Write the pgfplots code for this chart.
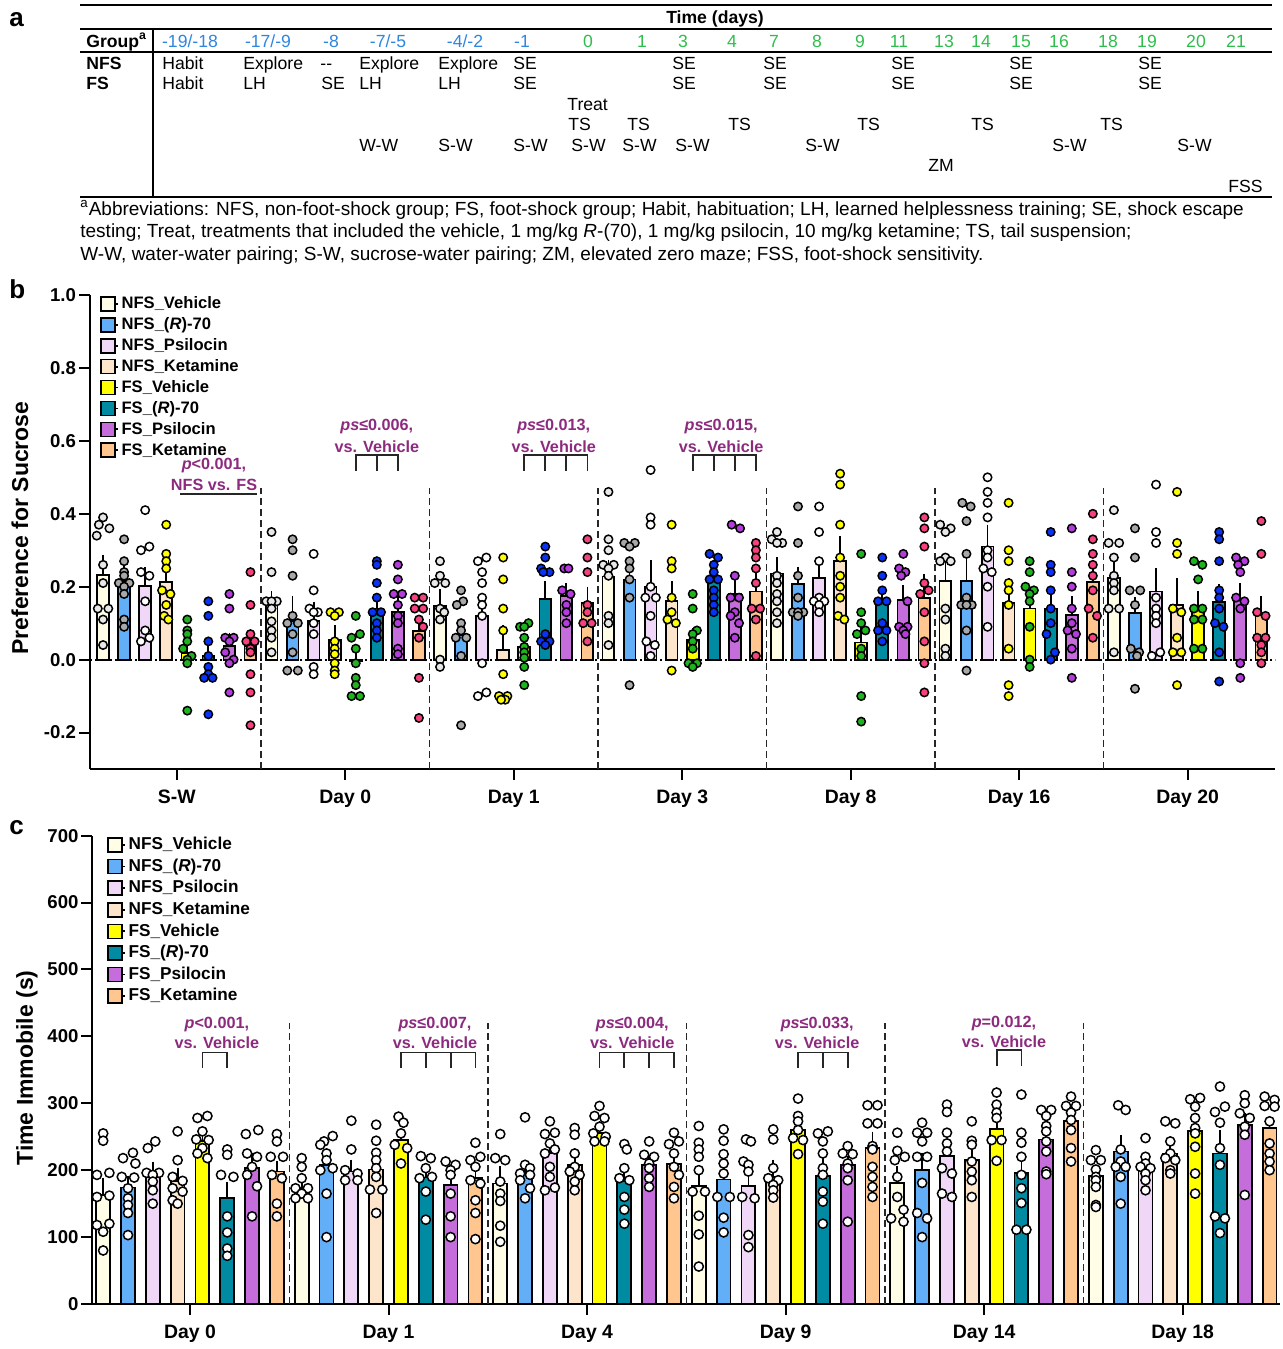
\documentclass[border=0pt]{standalone}
\usepackage{fontspec}
\setmainfont{Liberation Sans}
\usepackage{pgfplots}
\pgfplotsset{compat=1.18}
\definecolor{cA}{RGB}{255,253,230}
\definecolor{cB}{RGB}{98,174,247}
\definecolor{cC}{RGB}{240,214,247}
\definecolor{cD}{RGB}{253,229,204}
\definecolor{cE}{RGB}{255,255,0}
\definecolor{cF}{RGB}{0,139,163}
\definecolor{cG}{RGB}{197,110,219}
\definecolor{cH}{RGB}{255,199,143}
\definecolor{pA}{RGB}{232,232,232}
\definecolor{pB}{RGB}{168,168,168}
\definecolor{pC}{RGB}{255,255,255}
\definecolor{pD}{RGB}{255,255,0}
\definecolor{pE}{RGB}{29,181,29}
\definecolor{pF}{RGB}{10,50,245}
\definecolor{pG}{RGB}{180,60,220}
\definecolor{pH}{RGB}{245,65,125}
\definecolor{hblue}{RGB}{46,134,222}
\definecolor{hgreen}{RGB}{45,190,76}
\definecolor{annoc}{RGB}{140,42,126}
\newcommand{\tf}{\fontsize{8.8}{10}\selectfont}
\newcommand{\ff}{\fontsize{9.5}{11}\selectfont}
\pgfplotsset{
 bbar/.style={ybar, bar shift=0pt, bar width=0.56, fill=#1, draw=black, line width=0.9pt,
   legend image code/.code={\path (0pt,0pt) -- (8.2pt,0pt);\draw[##1, draw=black, line width=0.8pt] (0pt,-3.5pt) rectangle (7pt,3.5pt);},
   error bars/.cd, y dir=plus, y explicit, error bar style={line width=0.9pt, black, solid},
   error mark options={line width=0.9pt, black, mark size=2.6pt}},
 bpts/.style={only marks, mark=*, mark size=2.1pt, mark options={fill=#1, draw=black, line width=0.75pt}, forget plot},
 sep/.style={black!85, line width=0.8pt, dash pattern=on 3.5pt off 2pt, forget plot},
 myaxis/.style={scale only axis, anchor=south west, clip=false,
   axis x line*=bottom, axis y line*=left, axis line style={line width=1pt},
   tick align=outside, major tick length=5.5pt, tick style={line width=1pt, black},
   /pgf/number format/assume math mode=true,
   xticklabel style={font=\bfseries\fontsize{9.7}{10}\selectfont, yshift=-1.5pt},
   yticklabel style={font=\bfseries\fontsize{9.3}{10}\selectfont, inner xsep=1.3pt},
   legend cell align=left},
}
\tikzset{
 tab/.style={anchor=base west, font=\tf, inner sep=0pt},
 hb/.style={anchor=base, font=\tf, inner sep=0pt, text=hblue},
 hg/.style={anchor=base, font=\tf, inner sep=0pt, text=hgreen},
 anno/.style={font=\bfseries\fontsize{8.1}{9}\selectfont, text=annoc, inner sep=0pt},
 brk/.style={line width=0.9pt, black!85},
}
\begin{document}
\begin{tikzpicture}[x=0.5pt,y=-0.5pt]
\path[use as bounding box] (0,0) rectangle (1282,1349);
% ---------------- panel a ----------------
\node[anchor=base west, font=\bfseries\fontsize{13}{14}\selectfont, inner sep=0pt] at (9,26) {a};
\draw[line width=1.1pt] (80,5) -- (1272,5);
\draw[line width=0.8pt] (80,29) -- (1272,29);
\draw[line width=0.9pt] (80,52) -- (1272,52);
\draw[line width=0.9pt] (80,197) -- (1272,197);
\draw[line width=0.9pt] (153,29) -- (153,197);
\node[anchor=base, font=\bfseries\tf, inner sep=0pt] at (715,24) {Time (days)};
\node[tab, font=\bfseries\tf] at (86,47) {Group\textsuperscript{a}};
\node[tab, font=\bfseries\tf] at (86,69) {NFS};
\node[tab, font=\bfseries\tf] at (86,89) {FS};
\node[hb] at (190,47) {-19/-18};
\node[hb] at (268,47) {-17/-9};
\node[hb] at (331,47) {-8};
\node[hb] at (388,47) {-7/-5};
\node[hb] at (465,47) {-4/-2};
\node[hb] at (522,47) {-1};
\node[hg] at (588,47) {0};
\node[hg] at (642,47) {1};
\node[hg] at (683,47) {3};
\node[hg] at (732,47) {4};
\node[hg] at (774,47) {7};
\node[hg] at (817,47) {8};
\node[hg] at (860,47) {9};
\node[hg] at (899,47) {11};
\node[hg] at (944,47) {13};
\node[hg] at (981,47) {14};
\node[hg] at (1021,47) {15};
\node[hg] at (1059,47) {16};
\node[hg] at (1108,47) {18};
\node[hg] at (1147,47) {19};
\node[hg] at (1196,47) {20};
\node[hg] at (1236,47) {21};
% NFS row
\node[tab] at (162,69) {Habit};
\node[tab] at (243,69) {Explore};
\node[tab] at (320,69) {-{}-};
\node[tab] at (359,69) {Explore};
\node[tab] at (438,69) {Explore};
\node[tab] at (513,69) {SE};
\node[tab] at (672,69) {SE};
\node[tab] at (763,69) {SE};
\node[tab] at (891,69) {SE};
\node[tab] at (1009,69) {SE};
\node[tab] at (1138,69) {SE};
% FS row
\node[tab] at (162,89) {Habit};
\node[tab] at (243,89) {LH};
\node[tab] at (321,89) {SE};
\node[tab] at (359,89) {LH};
\node[tab] at (438,89) {LH};
\node[tab] at (513,89) {SE};
\node[tab] at (672,89) {SE};
\node[tab] at (763,89) {SE};
\node[tab] at (891,89) {SE};
\node[tab] at (1009,89) {SE};
\node[tab] at (1138,89) {SE};
\node[tab] at (567,110) {Treat};
\node[tab] at (568,130) {TS};
\node[tab] at (627,130) {TS};
\node[tab] at (728,130) {TS};
\node[tab] at (857,130) {TS};
\node[tab] at (971,130) {TS};
\node[tab] at (1100,130) {TS};
\node[tab] at (359,151) {W-W};
\node[tab] at (438,151) {S-W};
\node[tab] at (513,151) {S-W};
\node[tab] at (571,151) {S-W};
\node[tab] at (622,151) {S-W};
\node[tab] at (675,151) {S-W};
\node[tab] at (805,151) {S-W};
\node[tab] at (1052,151) {S-W};
\node[tab] at (1177,151) {S-W};
\node[tab] at (928,171) {ZM};
\node[tab] at (1228,192) {FSS};
\node[tab, font=\ff] at (80,215) {\textsuperscript{a}Abbreviations: NFS, non-foot-shock group; FS, foot-shock group; Habit, habituation; LH, learned helplessness training; SE, shock escape};
\node[tab, font=\ff] at (80,237) {testing; Treat, treatments that included the vehicle, 1 mg/kg \textit{R}-(70), 1 mg/kg psilocin, 10 mg/kg ketamine; TS, tail suspension;};
\node[tab, font=\ff] at (80,260) {W-W, water-water pairing; S-W, sucrose-water pairing; ZM, elevated zero maze; FSS, foot-shock sensitivity.};
% ---------------- panel b ----------------
\node[anchor=base west, font=\bfseries\fontsize{13}{14}\selectfont, inner sep=0pt] at (9,298) {b};
\node[rotate=90, font=\bfseries\fontsize{11.5}{12}\selectfont, inner sep=0pt] at (20,528) {Preference for Sucrose};
\coordinate (Bor) at (90,769);
\begin{axis}[myaxis, at={(Bor)}, width=592.5pt, height=237pt,
  xmin=-0.62, xmax=55.65, ymin=-0.3, ymax=1.0,
  xtick={3.5,11.5,19.5,27.5,35.5,43.5,51.5},
  xticklabels={S-W,Day 0,Day 1,Day 3,Day 8,Day 16,Day 20},
  ytick={-0.2,0,0.2,0.4,0.6,0.8,1.0},
  yticklabel style={/pgf/number format/fixed, /pgf/number format/fixed zerofill, /pgf/number format/precision=1},
  legend style={at={(rel axis cs:0.0084,1.004)}, anchor=north west, draw=none, fill=none,
    font=\bfseries\fontsize{8.3}{9}\selectfont, inner sep=0pt, row sep=0pt,
    nodes={inner ysep=1pt, inner xsep=1.5pt, text height=6.6pt, text depth=1.85pt}},
]
\addplot[sep] coordinates {(7.5,-0.3) (7.5,0.47)};
\addplot[sep] coordinates {(15.5,-0.3) (15.5,0.47)};
\addplot[sep] coordinates {(23.5,-0.3) (23.5,0.47)};
\addplot[sep] coordinates {(31.5,-0.3) (31.5,0.47)};
\addplot[sep] coordinates {(39.5,-0.3) (39.5,0.47)};
\addplot[sep] coordinates {(47.5,-0.3) (47.5,0.47)};
\addplot[bbar=cA] table[x=x,y=y,y error=e] {
x y e
0 0.233 0.041
8 0.155 0.018
16 0.146 0.034
24 0.228 0.032
32 0.236 0.030
40 0.216 0.054
48 0.224 0.036
};
\addplot[bbar=cB] table[x=x,y=y,y error=e] {
x y e
1 0.215 0.035
9 0.105 0.055
17 0.066 0.015
25 0.220 0.025
33 0.208 0.032
41 0.215 0.050
49 0.128 0.030
};
\addplot[bbar=cC] table[x=x,y=y,y error=e] {
x y e
2 0.203 0.037
10 0.105 0.040
18 0.120 0.044
26 0.200 0.058
34 0.224 0.036
42 0.310 0.046
50 0.187 0.050
};
\addplot[bbar=cD] table[x=x,y=y,y error=e] {
x y e
3 0.212 0.035
11 0.053 0.027
19 0.027 0.053
27 0.160 0.040
35 0.270 0.055
43 0.155 0.055
51 0.150 0.060
};
\addplot[bbar=cE] table[x=x,y=y,y error=e] {
x y e
4 0.018 0.020
12 -0.005 0.020
20 0.034 0.015
28 0.053 0.020
36 0.047 0.030
44 0.140 0.030
52 0.140 0.035
};
\addplot[bbar=cF] table[x=x,y=y,y error=e] {
x y e
5 0.010 0.025
13 0.140 0.017
21 0.166 0.036
29 0.220 0.035
37 0.163 0.020
45 0.140 0.035
53 0.157 0.035
};
\addplot[bbar=cG] table[x=x,y=y,y error=e] {
x y e
6 0.037 0.023
14 0.130 0.030
22 0.175 0.020
30 0.180 0.035
38 0.163 0.027
46 0.123 0.037
54 0.164 0.032
};
\addplot[bbar=cH] table[x=x,y=y,y error=e] {
x y e
7 0.038 0.030
15 0.078 0.030
23 0.155 0.030
31 0.187 0.040
39 0.170 0.050
47 0.212 0.030
55 0.128 0.032
};
\legend{NFS\_Vehicle,NFS\_(\textit{R})-70,NFS\_Psilocin,NFS\_Ketamine,FS\_Vehicle,FS\_(\textit{R})-70,FS\_Psilocin,FS\_Ketamine}
\addplot[black, line width=1pt, dash pattern=on 0.9pt off 1.6pt, forget plot] coordinates {(-0.62,0) (55.65,0)};
% points
\addplot[bpts=pA] coordinates {
(0,0.39) (-0.2,0.37) (0.3,0.36) (-0.3,0.34) (0,0.26) (0,0.21) (-0.25,0.14) (0.25,0.14) (0,0.11) (0,0.04)
(8,0.35) (8,0.24) (7.75,0.16) (8.25,0.16) (8,0.16) (8,0.14) (8,0.105) (8,0.08) (8,0.06) (8,0.02)
(16,0.27) (16,0.23) (15.75,0.21) (16.25,0.21) (16,0.14) (16.2,0.13) (16,0.11) (16,0.0) (16,-0.02)
(24,0.46) (24,0.33) (24,0.30) (23.75,0.26) (24.25,0.26) (24,0.25) (24,0.23) (24,0.12) (24,0.10) (24,0.04)
(32,0.35) (31.75,0.33) (32.25,0.32) (32,0.32) (32,0.23) (32,0.21) (32,0.18) (32,0.16) (32,0.13) (32,0.10)
(39.75,0.37) (40.25,0.36) (40,0.35) (40,0.28) (39.75,0.27) (40.25,0.27) (40,0.14) (40,0.11) (40,0.03) (40,0.01)
(48,0.41) (47.75,0.32) (48.25,0.32) (48,0.28) (48,0.23) (48,0.21) (48,0.19) (47.75,0.14) (48.25,0.14) (48,0.02)
};
\addplot[bpts=pB] coordinates {
(1,0.33) (1,0.27) (1,0.24) (1,0.23) (0.75,0.21) (1.25,0.21) (1,0.20) (1,0.18) (1,0.11) (1,0.09)
(9,0.33) (9,0.30) (9,0.23) (9,0.12) (8.75,0.10) (9.25,0.10) (9,0.07) (9,0.02) (8.75,-0.03) (9.25,-0.03)
(17,0.19) (17.1,0.16) (16.8,0.15) (17,0.10) (17,0.08) (16.75,0.06) (17.25,0.06) (17,0.01) (17,-0.18)
(24.75,0.32) (25.25,0.32) (25,0.31) (25,0.27) (25,0.25) (25,0.22) (25,0.17) (25,-0.07)
(33,0.42) (33,0.32) (33,0.23) (33,0.17) (32.75,0.13) (33.25,0.13) (33,0.13) (33,0.12)
(40.8,0.43) (41.2,0.42) (41,0.38) (41,0.29) (41,0.17) (40.75,0.15) (41.25,0.15) (41,0.15) (41,0.08) (41,-0.03)
(49,0.36) (49,0.28) (48.75,0.19) (49.25,0.19) (49,0.15) (48.8,0.03) (49.2,0.02) (49.1,0.01) (49,-0.08)
};
\addplot[bpts=pC] coordinates {
(2,0.41) (2.2,0.31) (1.8,0.30) (1.8,0.24) (2.2,0.23) (2,0.16) (2,0.08) (2.2,0.06) (1.8,0.05)
(10,0.29) (10,0.19) (9.8,0.14) (10.2,0.13) (10,0.13) (10,0.10) (10,0.07) (10,-0.02) (10,-0.04)
(18.2,0.28) (17.8,0.27) (18,0.24) (18,0.21) (18,0.17) (18,0.15) (18,0.12) (18,-0.01) (18.2,-0.09) (17.8,-0.10)
(26,0.52) (26,0.39) (26,0.37) (26,0.20) (25.75,0.17) (26.25,0.17) (26,0.12) (25.8,0.05) (26.2,0.04) (26,0.01)
(34,0.42) (34,0.35) (34,0.27) (34,0.17) (33.75,0.16) (34.25,0.16) (34,0.15) (34,0.13)
(42,0.50) (42,0.46) (42,0.43) (42,0.39) (42,0.30) (42,0.28) (41.8,0.25) (42.2,0.24) (42,0.20) (42,0.09)
(50,0.48) (50,0.35) (50,0.32) (50,0.17) (50,0.14) (50,0.12) (50,0.10) (50.2,0.02) (49.8,0.01)
};
\addplot[bpts=pD] coordinates {
(3,0.37) (3,0.29) (3,0.27) (3,0.25) (2.8,0.19) (3.2,0.18) (3,0.15) (2.9,0.12) (3.1,0.11)
(10.8,0.13) (11.2,0.13) (11,0.12) (11,0.05) (11,0.03) (11,0.015) (11,-0.01) (11,-0.03) (11,-0.04)
(19,0.28) (19,0.22) (19,0.14) (19,0.08) (19,-0.04) (19.2,-0.10) (18.8,-0.10) (19.1,-0.11) (18.9,-0.11)
(27,0.37) (27,0.27) (27,0.25) (27,0.17) (27,0.13) (26.8,0.11) (27.2,0.10) (27,-0.03)
(35,0.51) (35,0.48) (35,0.37) (35,0.28) (35,0.23) (35,0.20) (35,0.17) (34.9,0.12) (35.2,0.11)
(43,0.43) (43,0.30) (43,0.27) (43,0.21) (43,0.19) (43,0.15) (43,0.03) (43,-0.07) (43,-0.10)
(51,0.46) (51,0.32) (51,0.29) (50.8,0.14) (51.2,0.13) (51,0.06) (50.8,0.02) (51.2,0.02) (51,-0.07)
};
\addplot[bpts=pE] coordinates {
(4,0.11) (4,0.08) (4,0.07) (4,0.05) (3.8,0.03) (4.2,0.01) (4,0.0) (4,-0.01) (4,-0.14)
(12,0.12) (12.2,0.07) (11.8,0.06) (12,0.03) (12,-0.01) (12,-0.05) (12,-0.07) (11.8,-0.10) (12.2,-0.10)
(20.2,0.10) (19.8,0.09) (20,0.09) (20,0.06) (20,0.035) (20,0.02) (20,0.005) (20,-0.02) (20,-0.07)
(28,0.18) (28,0.14) (28.2,0.08) (28,0.07) (28,0.05) (28,0.03) (27.8,-0.01) (28.2,-0.01) (28,-0.02)
(36,0.29) (36,0.13) (36,0.10) (36.2,0.08) (35.8,0.07) (36,0.03) (36,0.01) (36,-0.10) (36,-0.17)
(44,0.27) (44,0.24) (43.8,0.20) (44.2,0.19) (44,0.18) (44,0.16) (44,0.09) (44,0.0) (44,-0.02)
(51.8,0.27) (52.2,0.26) (52,0.22) (51.8,0.14) (52.2,0.14) (51.8,0.11) (52.2,0.11) (51.8,0.03) (52.2,0.03)
};
\addplot[bpts=pF] coordinates {
(5,0.16) (5,0.12) (5,0.05) (5,0.01) (5,-0.02) (5,-0.04) (4.8,-0.05) (5.2,-0.05) (5,-0.15)
(13,0.27) (13,0.26) (13,0.21) (13,0.17) (12.8,0.13) (13.2,0.13) (13,0.10) (13,0.08) (13,0.06)
(21,0.31) (21,0.28) (20.8,0.25) (21.2,0.24) (20.9,0.24) (21,0.07) (20.8,0.05) (21.2,0.05) (21,0.04)
(28.8,0.29) (29.2,0.28) (29,0.26) (29,0.24) (28.8,0.22) (29.2,0.22) (29,0.19) (29,0.17) (29,0.15) (29,0.13)
(37,0.28) (37,0.23) (37,0.19) (36.8,0.16) (37.2,0.16) (37,0.10) (36.8,0.08) (37.2,0.08) (37,0.05)
(45,0.35) (45,0.26) (45,0.24) (45,0.19) (45,0.14) (45,0.10) (44.8,0.07) (45.2,0.02) (45,0.0)
(53,0.35) (53,0.33) (53,0.27) (53,0.19) (53,0.17) (53,0.14) (52.8,0.10) (53.2,0.09) (53,0.02) (53,-0.06)
};
\addplot[bpts=pG] coordinates {
(6,0.18) (6,0.14) (5.8,0.06) (6.2,0.06) (6,0.05) (5.8,0.02) (6.2,0.0) (6,-0.01) (6,-0.09)
(14,0.26) (14,0.22) (13.8,0.18) (14.2,0.18) (14,0.15) (14,0.12) (14,0.10) (14,0.03) (14,0.015)
(21.9,0.25) (22.1,0.25) (21.8,0.19) (22.2,0.18) (22,0.15) (22,0.13) (22,0.10)
(29.85,0.37) (30.25,0.36) (30,0.23) (29.8,0.17) (30.2,0.17) (30,0.13) (29.8,0.12) (30.2,0.10) (30,0.06)
(38,0.29) (37.8,0.25) (38.1,0.24) (37.9,0.23) (38.2,0.16) (37.8,0.09) (38.2,0.09) (38,0.08) (38.1,0.07)
(46,0.36) (46,0.24) (46,0.20) (46,0.14) (46,0.10) (45.8,0.08) (46.2,0.07) (46,0.03) (46,-0.05)
(53.8,0.28) (54.2,0.27) (53.9,0.26) (54,0.24) (53.8,0.17) (54.2,0.16) (54,0.14) (54,-0.01) (54,-0.05)
};
\addplot[bpts=pH] coordinates {
(7,0.24) (7,0.15) (7,0.07) (6.8,0.05) (7.2,0.05) (7,0.03) (7,0.02) (7,-0.04) (7,-0.09) (7,-0.18)
(14.8,0.17) (15.2,0.17) (14.8,0.14) (15.2,0.14) (15,0.11) (15.2,0.09) (15,0.06) (15,-0.05) (15,-0.16)
(23,0.33) (23,0.28) (23,0.24) (23,0.15) (23,0.13) (22.8,0.10) (23.2,0.10) (23,0.05)
(31,0.32) (31,0.30) (31,0.28) (31,0.25) (31,0.21) (30.8,0.14) (31.2,0.14) (31,0.11) (31,0.01)
(39,0.39) (39,0.36) (39,0.31) (39,0.21) (39.2,0.19) (38.8,0.18) (39,0.13) (39,0.05) (39,-0.01) (39,-0.09)
(47,0.40) (47,0.33) (47,0.29) (47,0.26) (47,0.23) (47,0.19) (46.8,0.14) (47.2,0.12) (47,0.06)
(55,0.38) (55,0.29) (54.8,0.13) (55.2,0.12) (54.8,0.06) (55.2,0.06) (55,0.04) (55,0.02) (55,-0.01)
};
% annotations
\node[anno] at (axis cs:5.27,0.531) {\textit{p}<0.001,};
\node[anno] at (axis cs:5.27,0.479) {NFS vs. FS};
\draw[brk] (axis cs:3.66,0.455) -- (axis cs:7.3,0.455);
\node[anno] at (axis cs:13,0.638) {\textit{ps}≤0.006,};
\node[anno] at (axis cs:13,0.584) {vs. Vehicle};
\draw[brk] (axis cs:12,0.518) -- (axis cs:12,0.562) -- (axis cs:14,0.562) -- (axis cs:14,0.518);
\draw[brk] (axis cs:13,0.562) -- (axis cs:13,0.518);
\node[anno] at (axis cs:21.4,0.638) {\textit{ps}≤0.013,};
\node[anno] at (axis cs:21.4,0.584) {vs. Vehicle};
\draw[brk] (axis cs:20,0.518) -- (axis cs:20,0.562) -- (axis cs:23,0.562) -- (axis cs:23,0.518);
\draw[brk] (axis cs:21,0.562) -- (axis cs:21,0.518);
\draw[brk] (axis cs:22,0.562) -- (axis cs:22,0.518);
\node[anno] at (axis cs:29.35,0.638) {\textit{ps}≤0.015,};
\node[anno] at (axis cs:29.35,0.584) {vs. Vehicle};
\draw[brk] (axis cs:28,0.518) -- (axis cs:28,0.562) -- (axis cs:31,0.562) -- (axis cs:31,0.518);
\draw[brk] (axis cs:29,0.562) -- (axis cs:29,0.518);
\draw[brk] (axis cs:30,0.562) -- (axis cs:30,0.518);
\end{axis}
% ---------------- panel c ----------------
\node[anchor=base west, font=\bfseries\fontsize{13}{14}\selectfont, inner sep=0pt] at (9,834) {c};
\node[rotate=90, font=\bfseries\fontsize{11.5}{12}\selectfont, inner sep=0pt] at (27,1068) {Time Immobile (s)};
\coordinate (Cor) at (92.5,1304);
\begin{axis}[myaxis, at={(Cor)}, width=593.75pt, height=234.2pt,
  xmin=-0.43, xmax=47.42, ymin=0, ymax=700,
  xtick={3.5,11.5,19.5,27.5,35.5,43.5},
  xticklabels={Day 0,Day 1,Day 4,Day 9,Day 14,Day 18},
  ytick={0,100,200,300,400,500,600,700},
  legend style={at={(rel axis cs:0.0122,1.004)}, anchor=north west, draw=none, fill=none,
    font=\bfseries\fontsize{8.6}{9}\selectfont, inner sep=0pt, row sep=0pt,
    nodes={inner ysep=1pt, inner xsep=1.5pt, text height=6.8pt, text depth=2pt}},
]
\addplot[sep] coordinates {(7.5,0) (7.5,420)};
\addplot[sep] coordinates {(15.5,0) (15.5,420)};
\addplot[sep] coordinates {(23.5,0) (23.5,420)};
\addplot[sep] coordinates {(31.5,0) (31.5,420)};
\addplot[sep] coordinates {(39.5,0) (39.5,420)};
\addplot[bbar=cA] table[x=x,y=y,y error=e] {
x y e
0 163 18
8 173 10
16 180 18
24 176 24
32 181 17
40 191 8
};
\addplot[bbar=cB] table[x=x,y=y,y error=e] {
x y e
1 174 10
9 208 16
17 195 8
25 186 19
33 200 18
41 228 17
};
\addplot[bbar=cC] table[x=x,y=y,y error=e] {
x y e
2 190 15
10 198 10
18 225 13
26 176 10
34 221 12
42 208 8
};
\addplot[bbar=cD] table[x=x,y=y,y error=e] {
x y e
3 184 12
11 201 8
19 208 12
27 190 18
35 215 13
43 225 16
};
\addplot[bbar=cE] table[x=x,y=y,y error=e] {
x y e
4 244 9
12 245 6
20 256 9
28 260 8
36 262 13
44 258 10
};
\addplot[bbar=cF] table[x=x,y=y,y error=e] {
x y e
5 158 17
13 189 10
21 183 10
29 191 22
37 196 24
45 225 28
};
\addplot[bbar=cG] table[x=x,y=y,y error=e] {
x y e
6 203 15
14 178 10
22 208 7
30 208 6
38 246 12
46 268 10
};
\addplot[bbar=cH] table[x=x,y=y,y error=e] {
x y e
7 198 8
15 188 12
23 209 15
31 233 17
39 273 12
47 263 10
};
\legend{NFS\_Vehicle,NFS\_(\textit{R})-70,NFS\_Psilocin,NFS\_Ketamine,FS\_Vehicle,FS\_(\textit{R})-70,FS\_Psilocin,FS\_Ketamine}
\addplot[bpts=pC, mark size=2.3pt] coordinates {
(0,255) (0,244) (-0.25,193) (0.25,196) (-0.25,160) (0.25,162) (0.25,120) (-0.25,118) (0,108) (0,80)
(1.2,226) (0.8,218) (1.3,210) (0.75,190) (1.25,189) (1,173) (1,158) (1,148) (1,136) (1,103)
(2.1,243) (1.8,233) (1.75,196) (2.25,196) (2,193) (2,183) (2,170) (2,150)
(3,258) (3,215) (2.8,190) (3.2,184) (2.8,173) (3.2,168) (2.8,155) (3,150)
(4.2,281) (3.8,278) (4,258) (3.75,246) (4.25,245) (4,233) (3.8,225) (4.2,218)
(5,231) (5,223) (4.75,193) (5.25,190) (5,131) (5,107) (5,83) (5,72)
(6.25,260) (5.75,254) (5.8,225) (6.2,220) (6,205) (5.8,193) (6.2,176) (6,131)
(7,254) (7,243) (6.75,220) (7.25,220) (6.8,193) (7.2,188) (7,150) (7,131)
(8,218) (8,205) (8,188) (7.75,173) (8.25,173) (8,165) (7.75,158) (8.25,158)
(9.25,251) (8.9,243) (8.75,238) (9,225) (9,215) (9.25,203) (8.75,200) (9,165) (9,100)
(10,274) (10,231) (9.75,200) (10.25,195) (9.75,185) (10.25,185)
(11,268) (11,244) (11,226) (11,215) (11,203) (11,190) (10.75,171) (11.25,171) (11,136)
(11.9,280) (12.1,271) (12,255) (11.75,238) (12.25,233) (12,210)
(12.8,221) (13.2,218) (13,203) (13.25,190) (12.75,188) (13,168) (13,126)
(13.8,213) (14.2,208) (14,200) (14,193) (14,165) (14,131) (14,100)
(15,241) (15.2,220) (14.8,215) (15,205) (14.8,185) (15.2,180) (15,155) (15,136) (15,97)
(16,254) (15.8,218) (16.2,215) (16,183) (16,165) (16,154) (16,117) (16,93)
(17,279) (17,208) (17.2,203) (16.8,195) (17.2,193) (16.8,185) (17.2,173) (17,158)
(18,273) (18.2,256) (17.8,254) (18,240) (18.2,231) (17.8,225) (18,205) (18,190) (18.2,174) (17.8,170)
(19,263) (19,253) (19,225) (19,205) (18.8,198) (19.2,193) (19,183) (19,170)
(20,296) (19.8,281) (20.2,278) (20,265) (19.75,255) (20.25,250) (19.8,243) (20.2,243)
(21,239) (21.1,231) (21,203) (20.8,188) (21.2,185) (21,160) (21,141) (21,120)
(22,243) (21.8,223) (22.2,220) (22,210) (22,203) (22,188) (22,175)
(23,256) (23.2,243) (22.8,239) (23,225) (23,205) (23.2,193) (23,175) (23,158)
(24,266) (24,241) (24,231) (24,220) (24,200) (23.75,168) (24.25,168) (24,132) (24,104) (24,56)
(25,261) (25,244) (25,224) (25,210) (25,195) (24.75,160) (25.25,160) (25,129) (25,107)
(25.9,246) (26.1,243) (25.8,213) (26,208) (26,198) (25.75,160) (26.25,158) (26,103) (26,85)
(27,261) (27,246) (27,203) (26.8,188) (27.2,185) (27,178) (27,170) (27,159)
(28,307) (28,281) (28,273) (28,260) (27.8,248) (28.2,245) (28,224)
(28.8,255) (29.2,258) (29,243) (29,225) (29,203) (29,193) (29,168) (29,153) (29,120)
(30,236) (29.8,225) (30.2,224) (30,210) (30,203) (30,185) (30,123)
(30.8,297) (31.2,297) (30.8,270) (31.2,270) (31,236) (31,231) (31,205) (31,190) (31,175) (31,160)
(32,256) (32,229) (32.3,220) (31.9,215) (32,190) (32,160) (32.25,141) (31.75,128) (32.25,123)
(33,271) (32.8,256) (33.2,256) (33,243) (32.8,220) (33.2,220) (33,181) (32.8,136) (33.2,128) (33,100)
(34,298) (34,287) (34,256) (34,240) (34,228) (33.8,203) (34.2,195) (33.8,165) (34.2,160)
(35,273) (35,244) (35,238) (35,213) (35,198) (35,185) (35,160)
(36,316) (36,298) (36,286) (36,278) (35.8,245) (36.2,245) (36,214)
(37,313) (37,256) (37,241) (37,220) (37,193) (37,173) (37,151) (36.8,111) (37.2,111)
(37.8,290) (38.2,290) (38,281) (38,266) (38,258) (38,243) (38,228) (38,198) (38,194)
(39,310) (38.8,296) (39.2,296) (39,286) (39,275) (39,260) (39,233) (39,213)
(40,230) (39.8,215) (40.2,215) (40,201) (40,190) (40,185) (40,175) (40,148) (40,145)
(40.9,297) (41.2,290) (41,231) (41,213) (40.8,205) (41.2,205) (41,190) (41,150)
(42,248) (42,220) (42,210) (41.8,205) (42.2,203) (42,195) (42,185) (42,170)
(42.8,273) (43.2,270) (43,243) (43,225) (42.8,218) (43.2,215) (43,200) (43,195)
(43.8,306) (44.2,308) (44,295) (44,278) (44,263) (44,255) (44,235) (44,195) (44,165)
(45,325) (45.2,295) (44.8,287) (45,271) (45,233) (45,208) (44.8,131) (45.2,128) (45,106)
(46,312) (46,300) (45.8,285) (46.2,278) (46,265) (46,253) (46,163)
(46.8,310) (47.2,305) (46.8,296) (47.2,295) (47,273) (47,240) (47,225) (47,213) (47,200)
};
\node[anno] at (axis cs:4.58,418) {\textit{p}<0.001,};
\node[anno] at (axis cs:4.58,390) {vs. Vehicle};
\draw[brk] (axis cs:4,353) -- (axis cs:4,376) -- (axis cs:5,376) -- (axis cs:5,353);
\node[anno] at (axis cs:13.37,418) {\textit{ps}≤0.007,};
\node[anno] at (axis cs:13.37,390) {vs. Vehicle};
\draw[brk] (axis cs:12,353) -- (axis cs:12,376) -- (axis cs:15,376) -- (axis cs:15,353);
\draw[brk] (axis cs:13,376) -- (axis cs:13,353);
\draw[brk] (axis cs:14,376) -- (axis cs:14,353);
\node[anno] at (axis cs:21.32,418) {\textit{ps}≤0.004,};
\node[anno] at (axis cs:21.32,390) {vs. Vehicle};
\draw[brk] (axis cs:20,353) -- (axis cs:20,376) -- (axis cs:23,376) -- (axis cs:23,353);
\draw[brk] (axis cs:21,376) -- (axis cs:21,353);
\draw[brk] (axis cs:22,376) -- (axis cs:22,353);
\node[anno] at (axis cs:28.77,418) {\textit{ps}≤0.033,};
\node[anno] at (axis cs:28.77,390) {vs. Vehicle};
\draw[brk] (axis cs:28,353) -- (axis cs:28,376) -- (axis cs:30,376) -- (axis cs:30,353);
\draw[brk] (axis cs:29,376) -- (axis cs:29,353);
\node[anno] at (axis cs:36.3,419) {\textit{p}=0.012,};
\node[anno] at (axis cs:36.3,392) {vs. Vehicle};
\draw[brk] (axis cs:36,355) -- (axis cs:36,380) -- (axis cs:37,380) -- (axis cs:37,355);
\end{axis}
\end{tikzpicture}
\end{document}
